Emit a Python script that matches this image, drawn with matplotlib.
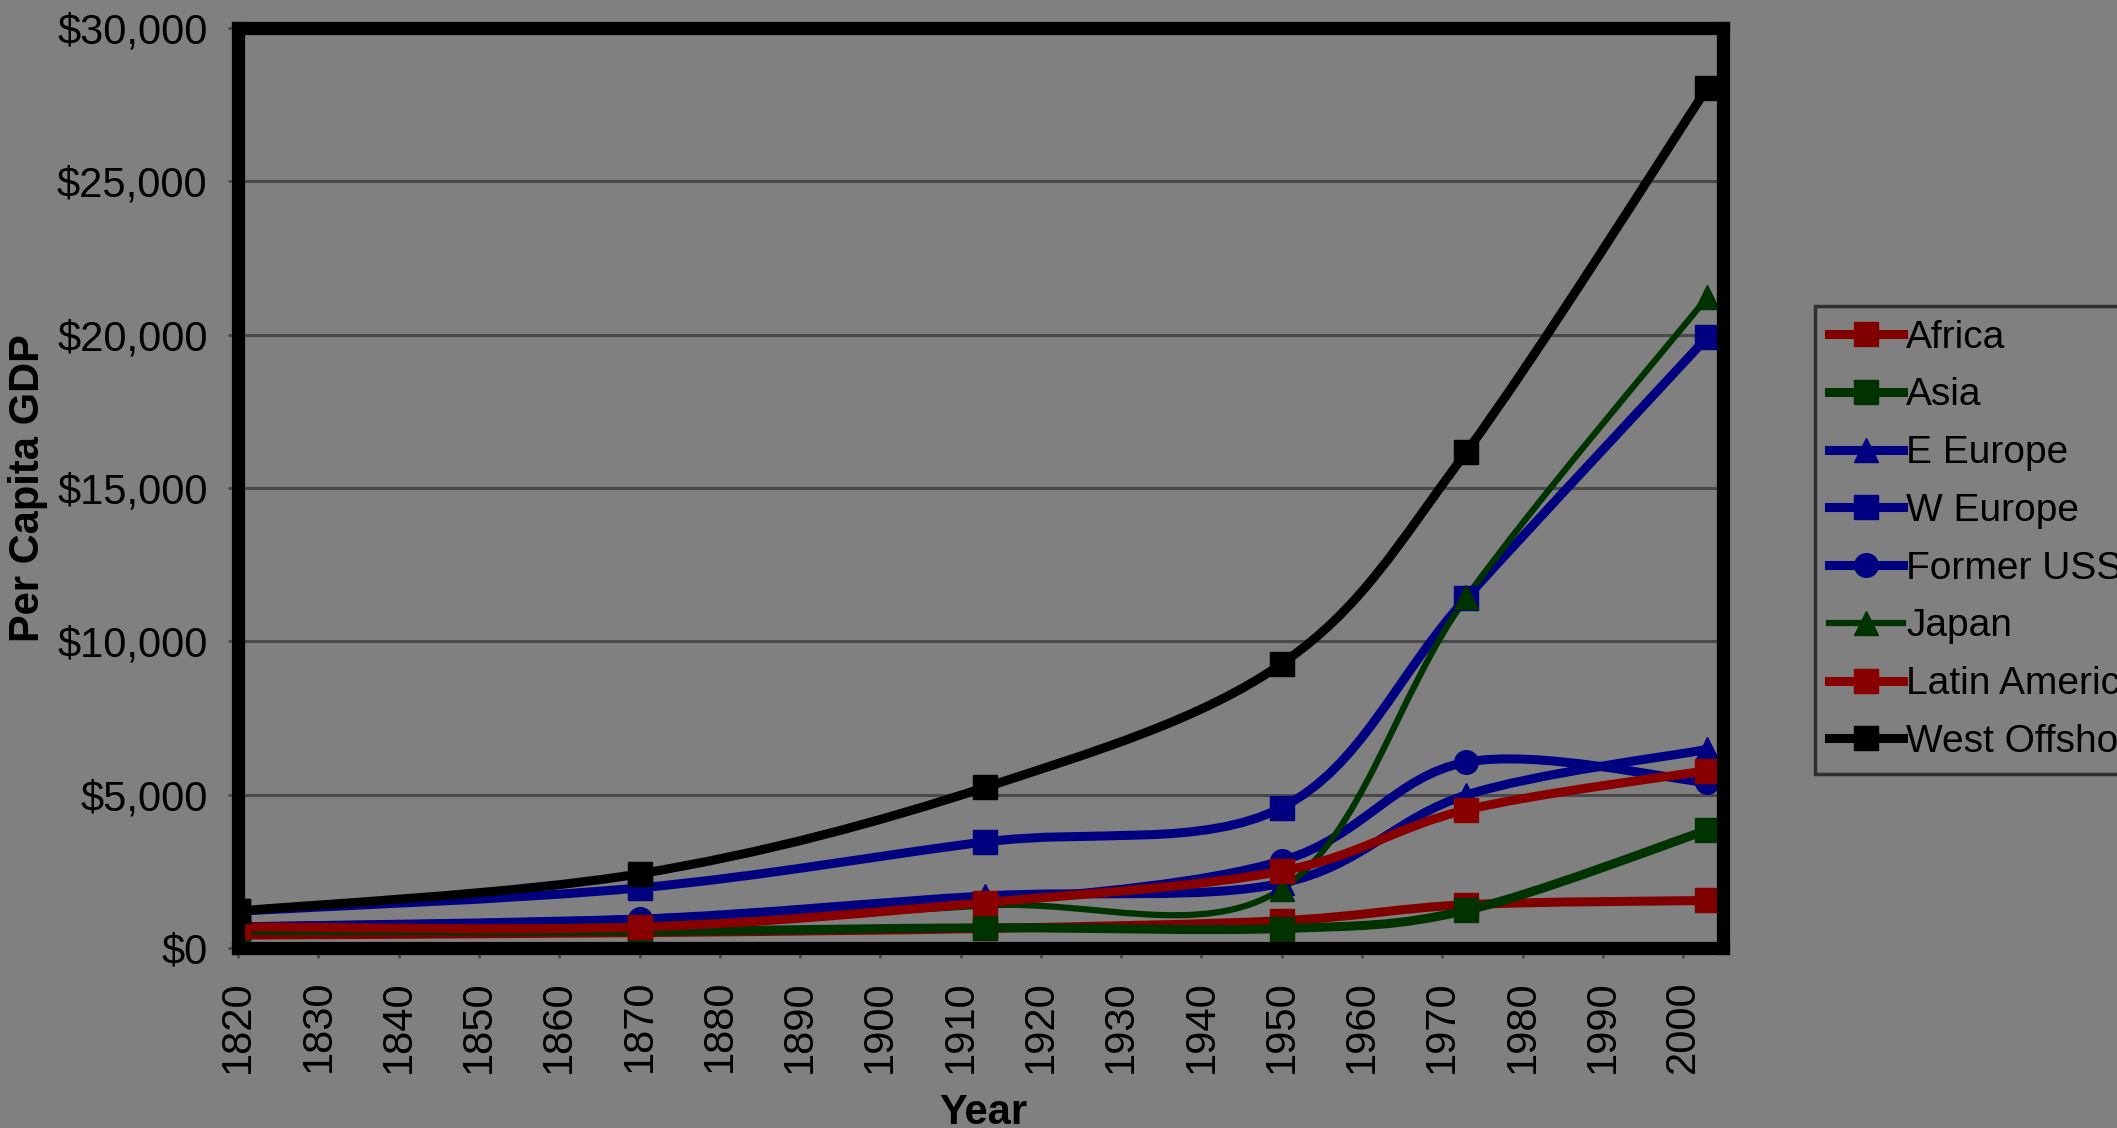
import matplotlib
matplotlib.use("Agg")
import matplotlib.pyplot as plt
import numpy as np
from matplotlib.path import Path
from matplotlib.patches import PathPatch
from matplotlib.lines import Line2D
from matplotlib.ticker import FuncFormatter

# Per capita GDP by region
years = [1820, 1870, 1913, 1950, 1973, 2003]
africa = [420, 500, 637, 890, 1410, 1549]
asia = [577, 550, 658, 634, 1226, 3842]
e_europe = [683, 937, 1695, 2111, 4988, 6476]
w_europe = [1202, 1960, 3457, 4578, 11417, 19912]
former_ussr = [688, 943, 1488, 2841, 6059, 5397]
japan = [669, 737, 1387, 1921, 11434, 21218]
latin_america = [692, 681, 1481, 2506, 4504, 5786]
west_offshoots = [1202, 2419, 5233, 9268, 16179, 28039]

labels = ["Africa", "Asia", "E Europe", "W Europe", "Former USSR",
          "Japan", "Latin America", "West Offshoots"]
series = [africa, asia, e_europe, w_europe, former_ussr,
          japan, latin_america, west_offshoots]
colors = ["#800000", "#003300", "#000080", "#000080", "#000080",
          "#003300", "#880000", "#000000"]
markers = ["s", "s", "^", "s", "o", "^", "s", "s"]
widths = [6.5, 6.5, 6.5, 6.5, 6.5, 4.5, 6.5, 6.5]

BG = "#808080"
FONT = "Liberation Sans"


# Excel-style smoothed line: Catmull-Rom turned into cubic Bezier segments
def smooth_path(xs, ys):
    pts = np.column_stack([xs, ys]).astype(float)
    n = len(pts)
    verts = [pts[0]]
    codes = [Path.MOVETO]
    for i in range(n - 1):
        p0 = pts[i - 1] if i > 0 else pts[i]
        p1 = pts[i]
        p2 = pts[i + 1]
        p3 = pts[i + 2] if i + 2 < n else pts[i + 1]
        c1 = p1 + (p2 - p0) / 6.0
        c2 = p2 - (p3 - p1) / 6.0
        verts += [c1, c2, p2]
        codes += [Path.CURVE4] * 3
    return Path(verts, codes)


fig = plt.figure(figsize=(21.17, 11.28), dpi=100, facecolor=BG)
ax = fig.add_axes([0.1125, 0.1596, 0.7015, 0.8156])
ax.set_facecolor(BG)

for vals, col, mk, lw in zip(series, colors, markers, widths):
    patch = PathPatch(smooth_path(years, vals), fill=False, edgecolor=col,
                      linewidth=lw, transform=ax.transData, zorder=3,
                      capstyle="round", joinstyle="round")
    ax.add_patch(patch)
    ax.plot(years, vals, linestyle="none", marker=mk, markersize=17,
            color=col, markeredgecolor=col, zorder=4)

ax.set_xlim(1820, 2005)
ax.set_ylim(0, 30000)
ax.set_xticks(np.arange(1820, 2001, 10))
ax.set_yticks(np.arange(0, 30001, 5000))
ax.yaxis.set_major_formatter(FuncFormatter(lambda v, p: f"${v:,.0f}"))
ax.grid(axis="y", color="#4a4a4a", linewidth=2.2, zorder=1)
ax.set_axisbelow(True)

for sp in ax.spines.values():
    sp.set_linewidth(9.5)
    sp.set_color("black")
    sp.set_zorder(10)

ax.tick_params(axis="both", direction="out", length=7, width=2,
               color="#4a4a4a", labelsize=30)
ax.tick_params(axis="y", pad=15)
ax.tick_params(axis="x", pad=16)
for lab in ax.get_xticklabels():
    lab.set_rotation(90)
    lab.set_fontfamily(FONT)
for lab in ax.get_yticklabels():
    lab.set_fontfamily(FONT)

ax.set_xlabel("Year", fontsize=30, fontweight="bold", family=FONT)
ax.set_ylabel("Per Capita GDP", fontsize=30, fontweight="bold", family=FONT)
ax.xaxis.set_label_coords(0.502, -0.158)
ax.yaxis.set_label_coords(-0.128, 0.5)

handles = [Line2D([], [], color=c, marker=m, markersize=17, linewidth=lw)
           for c, m, lw in zip(colors, markers, widths)]
leg = fig.legend(handles, labels, loc="upper left",
                 bbox_to_anchor=(1815 / 2117, 1 - 306 / 1128),
                 frameon=True, fancybox=False, framealpha=1,
                 facecolor=BG, edgecolor="#303030",
                 prop={"family": FONT, "size": 28},
                 handlelength=1.9, handletextpad=0.1, labelspacing=0.56,
                 borderpad=0.35, borderaxespad=0)
leg.get_frame().set_linewidth(2.5)

fig.savefig("out.png", dpi=100, facecolor=BG)
